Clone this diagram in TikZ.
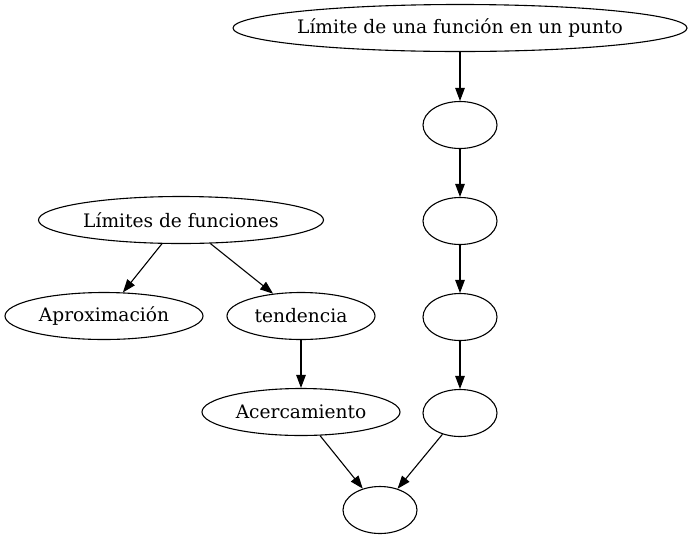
\documentclass[tikz,border=0pt]{standalone}
\usepackage{fontspec}
\setmainfont{DejaVu Serif}
\usetikzlibrary{shapes.geometric,arrows.meta}
\begin{document}
\begin{tikzpicture}[x=1pt,y=-1pt,
  gnode/.style={draw,ellipse,inner sep=0pt,minimum height=47pt,line width=1.1pt,font=\fontsize{18.6}{22}\selectfont},
  garrow/.style={-{Triangle[length=13pt,width=9.5pt]},line width=1.1pt}]
\useasboundingbox (0,0) rectangle (693,539);
\node[gnode,minimum width=454pt] (top) at (460,28) {\makebox[0pt]{Límite de una función en un punto}};
\node[gnode,minimum width=74pt] (e1) at (460,125) {};
\node[gnode,minimum width=74pt] (e2) at (460,221) {};
\node[gnode,minimum width=74pt] (e3) at (460,317) {};
\node[gnode,minimum width=74pt] (e4) at (460,413) {};
\node[gnode,minimum width=74pt] (bot) at (380,510) {};
\node[gnode,minimum width=285pt] (lf) at (181,220) {\makebox[0pt]{Límites de funciones}};
\node[gnode,minimum width=198pt] (ap) at (104,316) {\makebox[0pt]{Aproximación}};
\node[gnode,minimum width=148pt] (te) at (301,316) {\makebox[0pt]{tendencia}};
\node[gnode,minimum width=198pt] (ac) at (301,412) {\makebox[0pt]{Acercamiento}};
\draw[garrow] (top) -- (e1);
\draw[garrow] (e1) -- (e2);
\draw[garrow] (e2) -- (e3);
\draw[garrow] (e3) -- (e4);
\draw[garrow] (e4) -- (bot);
\draw[garrow] (ac) -- (bot);
\draw[garrow] (lf) -- (ap);
\draw[garrow] (lf) -- (te);
\draw[garrow] (te) -- (ac);
\end{tikzpicture}
\end{document}
